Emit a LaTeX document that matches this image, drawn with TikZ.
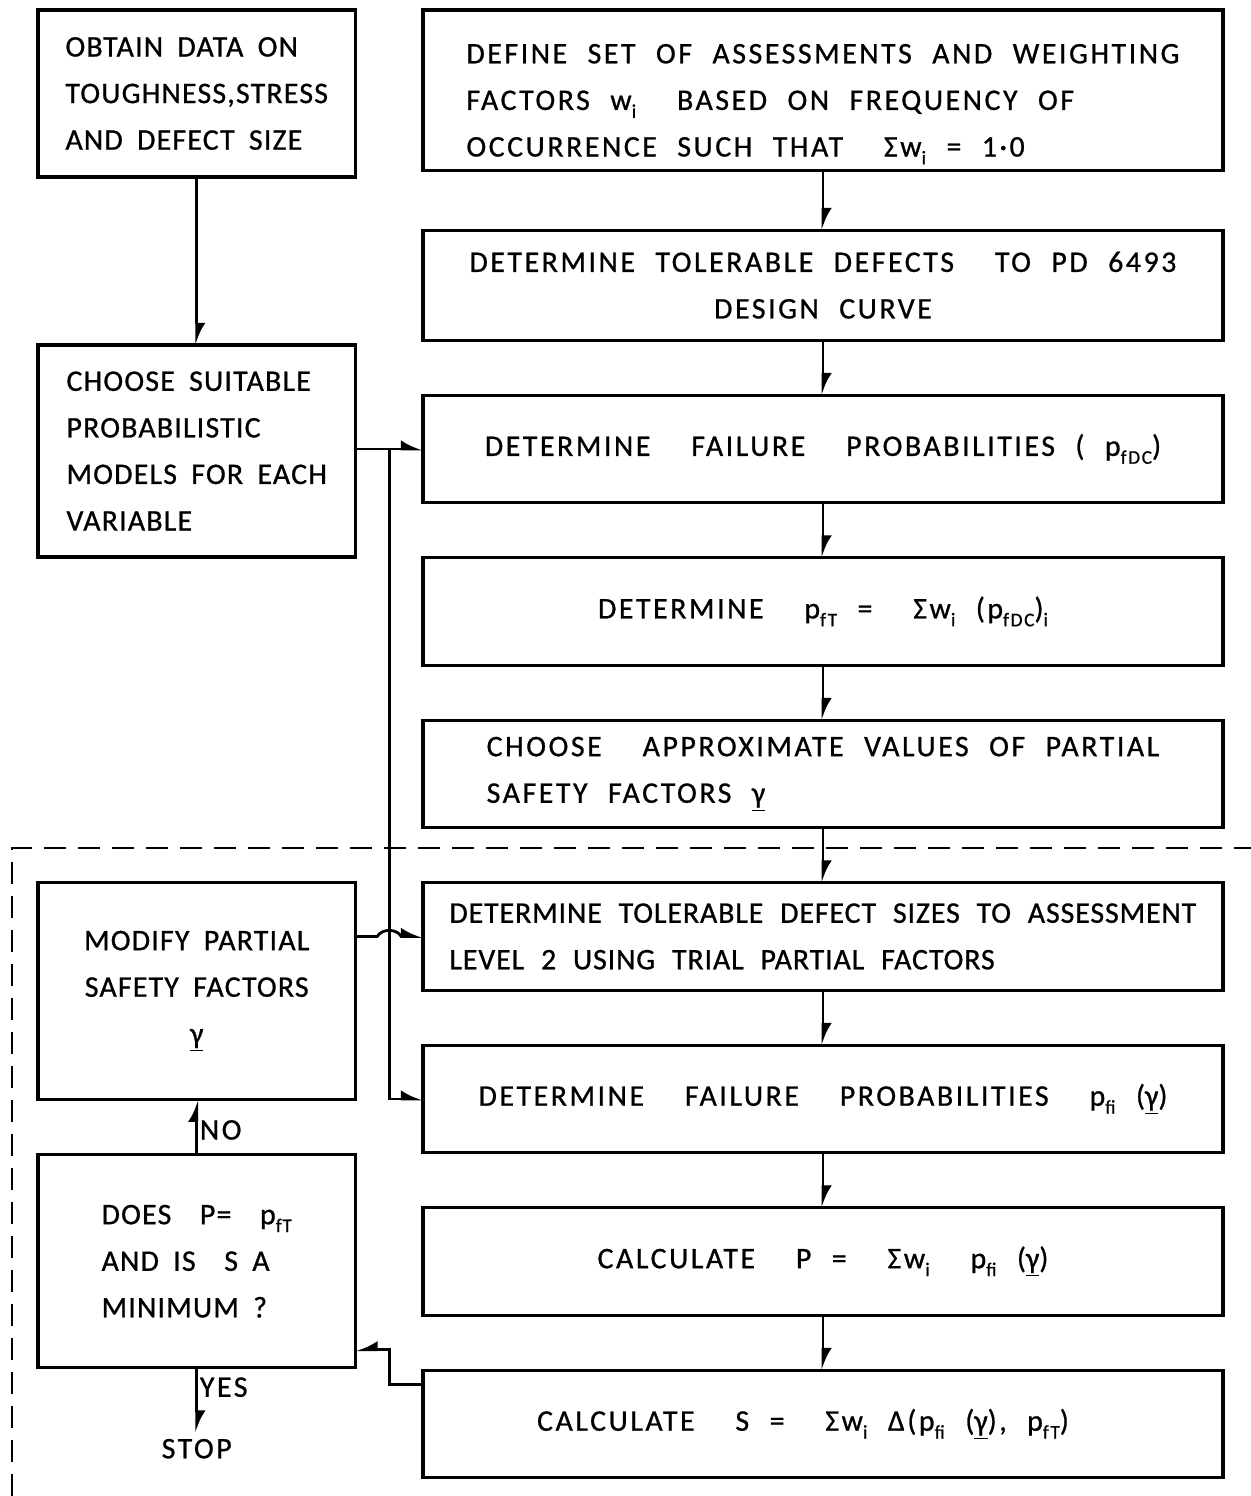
\documentclass[tikz,border=0pt]{standalone}
\usepackage{fontspec}
\setsansfont{Carlito}[LetterSpace=8.5,WordSpace=2.2,FakeBold=0.8]
\newfontfamily\leftfont{Carlito}[LetterSpace=4,WordSpace=1.8,FakeBold=0.8]
\usetikzlibrary{positioning,arrows.meta,calc}
\newcommand\sbs[1]{\raisebox{-0.55ex}{\fontsize{11}{11}\selectfont #1}}
\newcommand\gam{\underline{γ}}

\begin{document}
\begin{tikzpicture}[font={\sffamily\fontsize{17}{26.5}\selectfont},
rbox/.style={draw,line width=1.8pt,outer sep=0pt,minimum width=16cm,minimum height=2.15cm,inner xsep=0.2cm,align=center},
lbox/.style={draw,line width=1.8pt,outer sep=0pt,minimum width=6.35cm,inner xsep=0.2cm,align=left,
  font={\leftfont\fontsize{17}{26.5}\selectfont}},
tight/.style={font={\sffamily\fontsize{17}{26.5}\selectfont\addfontfeatures{LetterSpace=3}}},
arr/.style={line width=1.6pt,-{Latex[left,length=3.6mm,width=3.6mm]}},
arrb/.style={line width=1.6pt,-{Latex[right,length=3.6mm,width=3.6mm]}},
dashline/.style={line width=1.5pt,dash pattern=on 4.4mm off 2.4mm}]
\useasboundingbox (0,0) rectangle (25.02,-29.92);

\node[rbox,anchor=north west,minimum height=3.1cm,align=left] (assess) at (8.46,-0.2) {\rule{0pt}{0.95cm}DEFINE SET OF ASSESSMENTS AND WEIGHTING\\FACTORS w\sbs{i} \ BASED ON FREQUENCY OF\\OCCURRENCE SUCH THAT \ Σw\sbs{i} = 1·0};
\node[rbox,below=1.2cm of assess,minimum height=2.2cm] (tolerable) {DETERMINE TOLERABLE DEFECTS \ TO PD 6493\\DESIGN CURVE};
\node[rbox,below=1.1cm of tolerable] (pfdc) {DETERMINE \ FAILURE \ PROBABILITIES ( p\sbs{fDC})};
\node[rbox,below=1.1cm of pfdc] (pft) {DETERMINE \ p\sbs{fT} = \ Σw\sbs{i} (p\sbs{fDC})\sbs{i}};
\node[rbox,below=1.1cm of pft,align=left] (approx) {CHOOSE \ APPROXIMATE VALUES OF PARTIAL\\SAFETY FACTORS \gam};
\node[rbox,tight,below=1.1cm of approx,align=left] (trial) {DETERMINE TOLERABLE DEFECT SIZES TO ASSESSMENT\\LEVEL 2 USING TRIAL PARTIAL FACTORS};
\node[rbox,below=1.1cm of trial] (pfi) {DETERMINE \ FAILURE \ PROBABILITIES \ p\sbs{fi} (\gam)};
\node[rbox,below=1.1cm of pfi] (calcp) {CALCULATE \ P = \ Σw\sbs{i} \ p\sbs{fi} (\gam)};
\node[rbox,below=1.1cm of calcp] (calcs) {CALCULATE \ S = \ Σw\sbs{i} Δ(p\sbs{fi} (\gam), p\sbs{fT})\hspace{0.8cm}};

\node[lbox,anchor=north west,minimum height=3.34cm] (data) at (0.76,-0.2) {OBTAIN DATA ON\\TOUGHNESS,STRESS\\AND DEFECT SIZE};
\node[lbox,below=3.36cm of data,minimum height=4.24cm] (models) {CHOOSE SUITABLE\\PROBABILISTIC\\MODELS FOR EACH\\VARIABLE};
\node[lbox,anchor=north,minimum height=4.34cm,align=center] (modify) at (data.south |- trial.north) {MODIFY PARTIAL\\SAFETY FACTORS\\\gam};
\node[lbox,below=1.1cm of modify,minimum height=4.26cm] (check) {DOES \ P= \ p\sbs{fT}\\AND IS \ S A\\MINIMUM ?};
\node[below=1.3cm of check] (stop) {STOP};

\coordinate (bus) at ($(models.east)!0.5!(pfdc.west)$);

\draw[arr] (data) -- (models);
\draw[arr] (assess) -- (tolerable);
\draw[arr] (tolerable) -- (pfdc);
\draw[arr] (pfdc) -- (pft);
\draw[arr] (pft) -- (approx);
\draw[arr] (approx) -- (trial);
\draw[arr] (trial) -- (pfi);
\draw[arr] (pfi) -- (calcp);
\draw[arr] (calcp) -- (calcs);
\draw[arr] (models.east |- pfdc.west) -- (pfdc.west);
\draw[arr] (bus |- pfdc.west) |- (pfi.west);
\draw[arr] (modify.east |- trial.west) -- ([xshift=-2.4mm]bus |- trial.west) to[out=60,in=120] ([xshift=2.4mm]bus |- trial.west) -- (trial.west);
\draw[arr] (check) -- node[right,pos=0.45,inner xsep=1pt] {NO} (modify);
\draw[arr] (check) -- node[right,pos=0.3,inner xsep=1pt] {YES} (stop);
\draw[arrb] ([yshift=-2.8mm]calcs.north west) -| ([yshift=3.6mm]bus |- check.south) -- ([yshift=3.6mm]check.south east);

\draw[dashline] (0.24,-29.92) |- (25.02,-16.96);
\end{tikzpicture}
\end{document}
